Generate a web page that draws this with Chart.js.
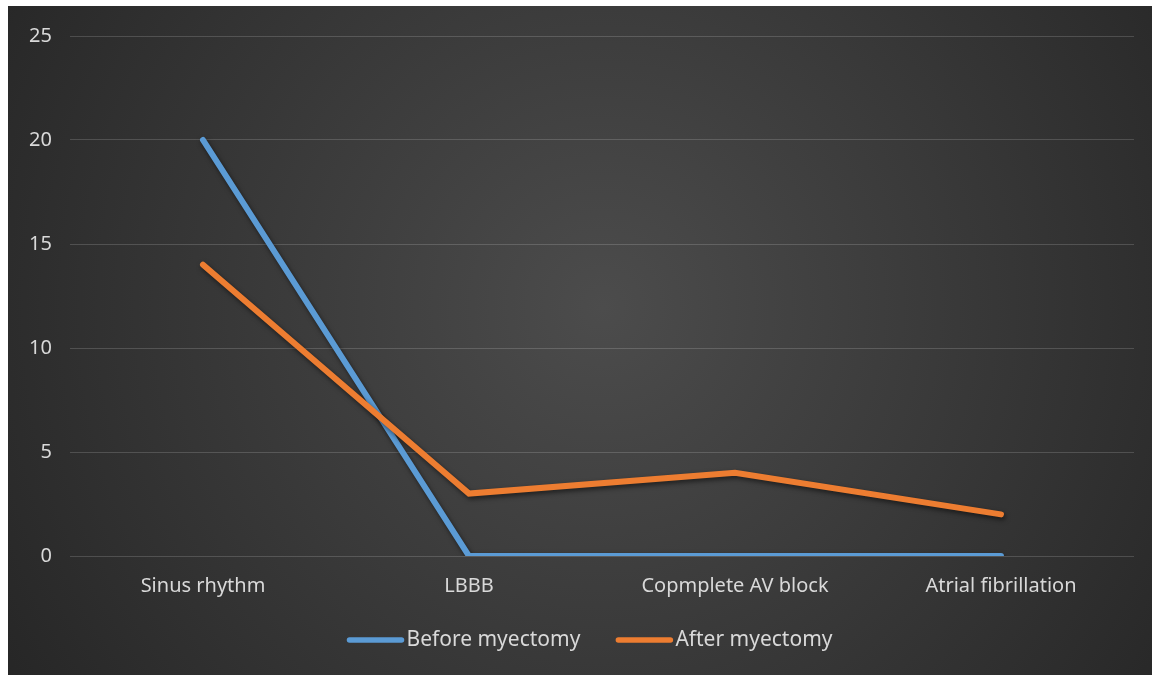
<!DOCTYPE html>
<html>
<head>
<meta charset="utf-8">
<script src="https://cdn.jsdelivr.net/npm/chart.js@4.4.1/dist/chart.umd.min.js"></script>
<style>
  html, body { margin: 0; padding: 0; background: #ffffff; overflow: hidden; }
  #wrap { position: absolute; left: 8px; top: 6px; width: 1144px; height: 669px; }
</style>
</head>
<body>
<div id="wrap"><canvas id="chart"></canvas></div>
<script>
// Rhythm categories and patient counts before / after myectomy
const categories = ['Sinus rhythm', 'LBBB', 'Copmplete AV block', 'Atrial fibrillation'];
const beforeMyectomy = [20, 0, 0, 0];
const afterMyectomy = [14, 3, 4, 2];
const yTicks = [0, 5, 10, 15, 20, 25];

const seriesNames = ['Before myectomy', 'After myectomy'];
const seriesColors = ['#5B9BD5', '#ED7D31'];

const FONT = '"Noto Sans", "Open Sans", sans-serif';

// dark radial backdrop behind the whole chart
const backdrop = {
  id: 'backdrop',
  beforeDraw(chart) {
    const { ctx, width, height } = chart;
    const g = ctx.createRadialGradient(width * 0.52, height * 0.45, 0, width * 0.52, height * 0.45, width * 0.62);
    g.addColorStop(0, '#4c4c4c');
    g.addColorStop(1, '#262626');
    ctx.save();
    ctx.fillStyle = g;
    ctx.fillRect(0, 0, width, height);
    ctx.restore();
  }
};

// soft drop shadow under the lines
const lineShadow = {
  id: 'lineShadow',
  beforeDatasetsDraw(chart) {
    const ctx = chart.ctx;
    ctx.save();
    ctx.shadowColor = 'rgba(0,0,0,0.55)';
    ctx.shadowBlur = 5;
    ctx.shadowOffsetX = 1.5;
    ctx.shadowOffsetY = 2.5;
  },
  afterDatasetsDraw(chart) {
    chart.ctx.restore();
  }
};

// legend with line swatches, drawn below the axis labels
const lineLegend = {
  id: 'lineLegend',
  afterDraw(chart) {
    const ctx = chart.ctx;
    const y = 634;
    const swatch = 56, gapText = 3, gapItem = 36;
    ctx.save();
    ctx.font = '21px ' + FONT;
    ctx.textBaseline = 'middle';
    const widths = chart.data.datasets.map(d => swatch + gapText + ctx.measureText(d.label).width);
    const total = widths.reduce((a, b) => a + b, 0) + gapItem * (widths.length - 1);
    let x = 582 - total / 2;
    chart.data.datasets.forEach((d, i) => {
      ctx.strokeStyle = d.borderColor;
      ctx.lineWidth = 5.5;
      ctx.lineCap = 'round';
      ctx.beginPath();
      ctx.moveTo(x + 2, y);
      ctx.lineTo(x + swatch - 2, y);
      ctx.stroke();
      ctx.fillStyle = '#d9d9d9';
      ctx.fillText(d.label, x + swatch + gapText, y);
      x += widths[i] + gapItem;
    });
    ctx.restore();
  }
};

new Chart(document.getElementById('chart'), {
  type: 'line',
  data: {
    labels: categories,
    datasets: [
      {
        label: seriesNames[0],
        data: beforeMyectomy,
        borderColor: seriesColors[0],
        backgroundColor: seriesColors[0],
        borderWidth: 6,
        borderCapStyle: 'round',
        borderJoinStyle: 'miter',
        pointRadius: 0,
        tension: 0,
        order: 1
      },
      {
        label: seriesNames[1],
        data: afterMyectomy,
        borderColor: seriesColors[1],
        backgroundColor: seriesColors[1],
        borderWidth: 6,
        borderCapStyle: 'round',
        borderJoinStyle: 'miter',
        pointRadius: 0,
        tension: 0,
        order: 0
      }
    ]
  },
  options: {
    responsive: true,
    maintainAspectRatio: false,
    animation: false,
    layout: { padding: { left: 0, top: 27, right: 18, bottom: 0 } },
    plugins: {
      legend: { display: false },
      tooltip: { enabled: false }
    },
    scales: {
      x: {
        offset: true,
        grid: { display: false, drawTicks: false },
        border: { display: false },
        ticks: { color: '#d9d9d9', font: { family: FONT, size: 20 }, padding: 18, maxRotation: 0 },
        afterFit(scale) { scale.height = 119; }
      },
      y: {
        min: 0,
        max: 25,
        afterBuildTicks(scale) { scale.ticks = yTicks.map(v => ({ value: v })); },
        grid: { color: 'rgba(255,255,255,0.16)', lineWidth: 1, drawTicks: false },
        border: { display: false },
        ticks: { color: '#d9d9d9', font: { family: FONT, size: 20 }, padding: 18 },
        afterFit(scale) { scale.width = 62; }
      }
    }
  },
  plugins: [backdrop, lineShadow, lineLegend]
});
</script>
</body>
</html>
